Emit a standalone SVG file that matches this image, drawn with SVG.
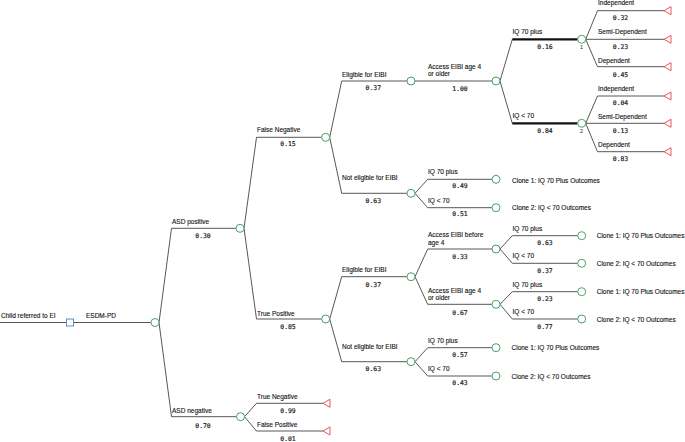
<svg xmlns="http://www.w3.org/2000/svg" width="685" height="442" viewBox="0 0 685 442">
<defs>
<style>
.ln{fill:none;stroke:#444;stroke-width:0.9}
.thk{fill:none;stroke:#111;stroke-width:2.2}
.ch{fill:#fff;stroke:#4f9e6e;stroke-width:1}
.tm{fill:#fff;stroke:#e8555f;stroke-width:1}
.dc{fill:#fff;stroke:#5d8ec7;stroke-width:1}
.lb{font-family:"Liberation Sans",Arial,sans-serif;font-size:6.5px;fill:#111;stroke:#111;stroke-width:0.12}
.pr{font-family:"DejaVu Sans Mono","Liberation Mono",monospace;font-size:6.4px;fill:#222;stroke:#222;stroke-width:0.2;text-anchor:middle}
.nm{font-family:"Liberation Sans",Arial,sans-serif;font-size:5.5px;fill:#222;text-anchor:middle}
</style>
</defs>
<rect width="685" height="442" fill="#fff"/>
<g id="connectors">
<path class="ln" d="M0,322.5H66.5M73.5,322.5H151"/>
<path class="ln" d="M159,322.5L171.5,228.3H236M159,322.5L171.5,416.7H236.5"/>
<path class="ln" d="M244,228.3L256.5,137.3H321.7M244,228.3L256.5,319H321.7"/>
<path class="ln" d="M244.5,416.7L256.5,403.3H323M244.5,416.7L256.5,431H323"/>
<path class="ln" d="M329.7,137.3L341.7,81H407M329.7,137.3L341.7,193.3H407"/>
<path class="ln" d="M415,81H492"/>
<path class="ln" d="M500,81L512.3,39.3M500,81L512.3,123.3"/>
<path class="thk" d="M512.3,39.3H577.7M512.3,123.3H577.7"/>
<path class="ln" d="M585.7,39.3L597.5,10.7H664M585.7,39.3H664M585.7,39.3L597.5,66.7H664"/>
<path class="ln" d="M585.7,123.3L597.5,96H664M585.7,123.3H664M585.7,123.3L597.5,151.7H664"/>
<path class="ln" d="M415,193.3L427.7,179.3H492M415,193.3L427.7,207.7H492"/>
<path class="ln" d="M329.7,319L341.7,276.7H407M329.7,319L341.7,361.7H407"/>
<path class="ln" d="M415,276.7L427.7,249H492M415,276.7L427.7,304.3H492"/>
<path class="ln" d="M500,249L512.3,235.7H577.7M500,249L512.3,263.3H577.7"/>
<path class="ln" d="M500,304.3L512.3,291.7H577.7M500,304.3L512.3,319H577.7"/>
<path class="ln" d="M415,361.7L427.7,347.7H492M415,361.7L427.7,376H492"/>
</g>
<g id="root">
<text class="lb" x="1" y="317.5">Child referred to EI</text>
<rect class="dc" x="66.5" y="319" width="7" height="7"/>
<text class="lb" x="86" y="317.5">ESDM-PD</text>
</g>
<g id="n-esdm"><circle class="ch" cx="155" cy="322.5" r="4"/></g>
<g id="n-asdpos"><circle class="ch" cx="240" cy="228.3" r="4"/>
<text class="lb" x="172" y="224">ASD positive</text><text class="pr" x="203" y="238">0.30</text></g>
<g id="n-asdneg"><circle class="ch" cx="240.5" cy="416.7" r="4"/>
<text class="lb" x="172" y="412.5">ASD negative</text><text class="pr" x="203" y="427.5">0.70</text></g>
<g id="n-tn"><path class="tm" d="M323,403.3L330,399.3V407.3Z"/>
<text class="lb" x="257" y="399">True Negative</text><text class="pr" x="288" y="413">0.99</text></g>
<g id="n-fp"><path class="tm" d="M323,431L330,427V435Z"/>
<text class="lb" x="257" y="427">False Positive</text><text class="pr" x="288" y="441.2">0.01</text></g>
<g id="n-fn"><circle class="ch" cx="325.7" cy="137.3" r="4"/>
<text class="lb" x="257" y="132">False Negative</text><text class="pr" x="288" y="146">0.15</text></g>
<g id="n-tp"><circle class="ch" cx="325.7" cy="319" r="4"/>
<text class="lb" x="257" y="315.5">True Positive</text><text class="pr" x="288" y="329">0.85</text></g>
<g id="n-fn-elig"><circle class="ch" cx="411" cy="81" r="4"/>
<text class="lb" x="342" y="77">Eligible for EIBI</text><text class="pr" x="373.3" y="90">0.37</text></g>
<g id="n-fn-notelig"><circle class="ch" cx="411" cy="193.3" r="4"/>
<text class="lb" x="342" y="180">Not eligible for EIBI</text><text class="pr" x="373.3" y="203">0.63</text></g>
<g id="n-fn-access"><circle class="ch" cx="496" cy="81" r="4"/>
<text class="lb" x="428" y="68.5">Access EIBI age 4</text><text class="lb" x="428" y="76">or older</text><text class="pr" x="460" y="91">1.00</text></g>
<g id="n-iq70-1"><circle class="ch" cx="581.7" cy="39.3" r="4"/>
<text class="lb" x="512.5" y="34">IQ 70 plus</text><text class="pr" x="545" y="48.5">0.16</text><text class="nm" x="581.5" y="48.5">1</text></g>
<g id="n-iqlt-2"><circle class="ch" cx="581.7" cy="123.3" r="4"/>
<text class="lb" x="512.5" y="118">IQ &lt; 70</text><text class="pr" x="545" y="132.5">0.84</text><text class="nm" x="581.5" y="132.5">2</text></g>
<g id="n-1-ind"><path class="tm" d="M664,10.7L671,6.7V14.7Z"/>
<text class="lb" x="598" y="5">Independent</text><text class="pr" x="620.5" y="20">0.32</text></g>
<g id="n-1-semi"><path class="tm" d="M664,39.3L671,35.3V43.3Z"/>
<text class="lb" x="598" y="34">Semi-Dependent</text><text class="pr" x="620.5" y="48.5">0.23</text></g>
<g id="n-1-dep"><path class="tm" d="M664,66.7L671,62.7V70.7Z"/>
<text class="lb" x="598" y="62.5">Dependent</text><text class="pr" x="620.5" y="76.5">0.45</text></g>
<g id="n-2-ind"><path class="tm" d="M664,96L671,92V100Z"/>
<text class="lb" x="598" y="91">Independent</text><text class="pr" x="620.5" y="105">0.04</text></g>
<g id="n-2-semi"><path class="tm" d="M664,123.3L671,119.3V127.3Z"/>
<text class="lb" x="598" y="118.5">Semi-Dependent</text><text class="pr" x="620.5" y="132.5">0.13</text></g>
<g id="n-2-dep"><path class="tm" d="M664,151.7L671,147.7V155.7Z"/>
<text class="lb" x="598" y="146.5">Dependent</text><text class="pr" x="620.5" y="161">0.83</text></g>
<g id="n-fnn-iq70"><circle class="ch" cx="496" cy="179.3" r="4"/>
<text class="lb" x="428" y="174">IQ 70 plus</text><text class="pr" x="460" y="187.5">0.49</text>
<text class="lb" x="512" y="182.5">Clone 1: IQ 70 Plus Outcomes</text></g>
<g id="n-fnn-iqlt"><circle class="ch" cx="496" cy="207.7" r="4"/>
<text class="lb" x="428" y="202.5">IQ &lt; 70</text><text class="pr" x="460" y="216">0.51</text>
<text class="lb" x="512" y="210">Clone 2: IQ &lt; 70 Outcomes</text></g>
<g id="n-tp-elig"><circle class="ch" cx="411" cy="276.7" r="4"/>
<text class="lb" x="342" y="272">Eligible for EIBI</text><text class="pr" x="373.3" y="287">0.37</text></g>
<g id="n-tp-notelig"><circle class="ch" cx="411" cy="361.7" r="4"/>
<text class="lb" x="342" y="349">Not eligible for EIBI</text><text class="pr" x="373.3" y="370.5">0.63</text></g>
<g id="n-tp-before"><circle class="ch" cx="496" cy="249" r="4"/>
<text class="lb" x="428" y="236.5">Access EIBI before</text><text class="lb" x="428" y="244.5">age 4</text><text class="pr" x="460" y="259">0.33</text></g>
<g id="n-tp-older"><circle class="ch" cx="496" cy="304.3" r="4"/>
<text class="lb" x="428" y="292.5">Access EIBI age 4</text><text class="lb" x="428" y="300">or older</text><text class="pr" x="460" y="315">0.67</text></g>
<g id="n-b-iq70"><circle class="ch" cx="581.7" cy="235.7" r="4"/>
<text class="lb" x="512.5" y="231">IQ 70 plus</text><text class="pr" x="545" y="245">0.63</text>
<text class="lb" x="596.7" y="238">Clone 1: IQ 70 Plus Outcomes</text></g>
<g id="n-b-iqlt"><circle class="ch" cx="581.7" cy="263.3" r="4"/>
<text class="lb" x="512.5" y="258">IQ &lt; 70</text><text class="pr" x="545" y="272.5">0.37</text>
<text class="lb" x="596.7" y="266">Clone 2: IQ &lt; 70 Outcomes</text></g>
<g id="n-o-iq70"><circle class="ch" cx="581.7" cy="291.7" r="4"/>
<text class="lb" x="512.5" y="287">IQ 70 plus</text><text class="pr" x="545" y="301">0.23</text>
<text class="lb" x="596.7" y="294">Clone 1: IQ 70 Plus Outcomes</text></g>
<g id="n-o-iqlt"><circle class="ch" cx="581.7" cy="319" r="4"/>
<text class="lb" x="512.5" y="314">IQ &lt; 70</text><text class="pr" x="545" y="329">0.77</text>
<text class="lb" x="596.7" y="321.5">Clone 2: IQ &lt; 70 Outcomes</text></g>
<g id="n-tpn-iq70"><circle class="ch" cx="496" cy="347.7" r="4"/>
<text class="lb" x="428" y="342.5">IQ 70 plus</text><text class="pr" x="460" y="357">0.57</text>
<text class="lb" x="511.5" y="350">Clone 1: IQ 70 Plus Outcomes</text></g>
<g id="n-tpn-iqlt"><circle class="ch" cx="496" cy="376" r="4"/>
<text class="lb" x="428" y="371">IQ &lt; 70</text><text class="pr" x="460" y="385">0.43</text>
<text class="lb" x="511.5" y="378.5">Clone 2: IQ &lt; 70 Outcomes</text></g>
</svg>
